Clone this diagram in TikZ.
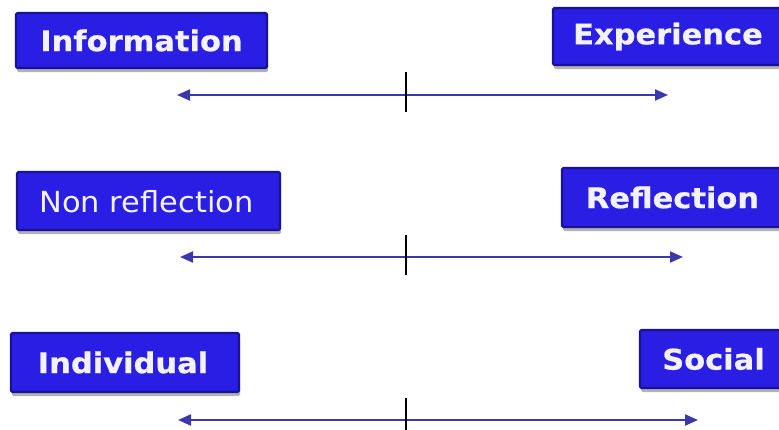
\documentclass[tikz,border=0pt]{standalone}
\usepackage{fontspec}
\setmainfont{DejaVu Sans}
\newfontfamily\heavyfont[FakeBold=0.6]{DejaVu Sans Bold}
\usetikzlibrary{arrows.meta,shadows}
\definecolor{boxblue}{RGB}{42,30,228}
\definecolor{boxedge}{RGB}{24,18,150}
\definecolor{boxtext}{RGB}{242,242,252}
\definecolor{axisblue}{RGB}{58,56,170}
\tikzset{
  barbox/.style={rectangle, fill=boxblue, draw=boxedge, line width=2.2pt,
    rounded corners=1.5pt, inner sep=0pt,
    drop shadow={shadow xshift=1pt, shadow yshift=-4pt, opacity=0.3, fill=black}},
  barlabel/.style={text=boxtext, inner sep=0pt, font=\fontsize{28.5}{31}\heavyfont},
  plainlabel/.style={text=boxtext, inner sep=0pt, font=\fontsize{29}{31}\selectfont},
  axisline/.style={draw=axisblue, line width=2pt,
    {Triangle[length=13pt,width=11pt]}-{Triangle[length=13pt,width=11pt]}},
  tickmark/.style={draw=black, line width=1.8pt}
}
\begin{document}
\begin{tikzpicture}[x=1pt,y=-1pt]
  \useasboundingbox (0,0) rectangle (779,429);
  \clip (0,0) rectangle (779,429);

  % boxes (left and right pole of each scale)
  \node[barbox, minimum width=251pt, minimum height=55pt] (b1) at (141.5,40.5) {};
  \node[barbox, minimum width=236pt, minimum height=57pt] (b2) at (671,36.5) {};
  \node[barbox, minimum width=263pt, minimum height=58pt] (b3) at (148.5,201) {};
  \node[barbox, minimum width=226pt, minimum height=59pt] (b4) at (675,197.5) {};
  \node[barbox, minimum width=228pt, minimum height=59pt] (b5) at (125,362.5) {};
  \node[barbox, minimum width=148pt, minimum height=58pt] (b6) at (714,359) {};

  % labels
  \node[barlabel] (t1) at (141.5,40.5) {\scalebox{1.07}[1]{Information}};
  \node[barlabel] (t2) at (668,36.5) {\scalebox{1.07}[1]{Experience}};
  \node[plainlabel] (t3) at (146.5,202) {\scalebox{1.05}[1]{Non reflection}};
  \node[barlabel] (t4) at (672.5,197.5) {\scalebox{1.07}[1]{Reflection}};
  \node[barlabel] (t5) at (123,362.5) {\scalebox{1.07}[1]{Individual}};
  \node[barlabel] (t6) at (713.5,359) {\scalebox{1.07}[1]{Social}};

  % scale end points and middle ticks
  \coordinate (l1) at (177,95);  \coordinate (r1) at (668,95);
  \coordinate (l2) at (180,257); \coordinate (r2) at (683,257);
  \coordinate (l3) at (178,420); \coordinate (r3) at (698,420);
  \coordinate (m1a) at (406,72);  \coordinate (m1b) at (406,112);
  \coordinate (m2a) at (406,235); \coordinate (m2b) at (406,275);
  \coordinate (m3a) at (406,398); \coordinate (m3b) at (406,440);

  \draw[axisline] (l1) -- (r1);
  \draw[axisline] (l2) -- (r2);
  \draw[axisline] (l3) -- (r3);
  \draw[tickmark] (m1a) -- (m1b);
  \draw[tickmark] (m2a) -- (m2b);
  \draw[tickmark] (m3a) -- (m3b);
\end{tikzpicture}
\end{document}
